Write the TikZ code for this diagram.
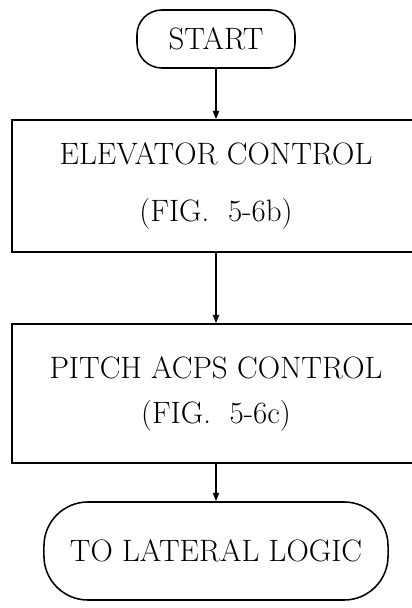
\documentclass[tikz,border=0pt]{standalone}
\usepackage{tikz}
\usetikzlibrary{arrows.meta,positioning}
\tikzset{
	termbox/.style={draw=black, line width=1.1pt, fill=white, align=center,
		inner sep=0pt},
	procbox/.style={draw=black, line width=1.1pt, fill=white, align=center,
		inner sep=0pt},
	flarr/.style={-{Triangle[length=6pt,width=4.5pt]}, line width=1.1pt,
		draw=black},
}

\begin{document}
\begin{tikzpicture}[x=0.025cm,y=-0.025cm,font=\fontsize{22}{25}\selectfont]
	\useasboundingbox (0,0) rectangle (412,608);

	% terminals and process blocks, top to bottom
	\node[termbox,rounded corners=0.62cm,minimum width=3.95cm,minimum height=1.45cm]
		at (216,39) (start) {START};
	\node[procbox,minimum width=10.2cm,minimum height=3.3cm]
		at (216,186) (elev) {ELEVATOR CONTROL\\[15pt](FIG.~ 5-6b)};
	\node[procbox,minimum width=10.2cm,minimum height=3.475cm]
		at (216,393.5) (pitch) {PITCH ACPS CONTROL\\[7pt](FIG.~ 5-6c)};
	\node[termbox,rounded corners=1.1cm,minimum width=8.6cm,minimum height=2.45cm]
		at (216,551) (lat) {TO LATERAL LOGIC};

	% flow arrows
	\draw[flarr] (start) -- (elev);
	\draw[flarr] (elev)  -- (pitch);
	\draw[flarr] (pitch) -- (lat);
\end{tikzpicture}
\end{document}
